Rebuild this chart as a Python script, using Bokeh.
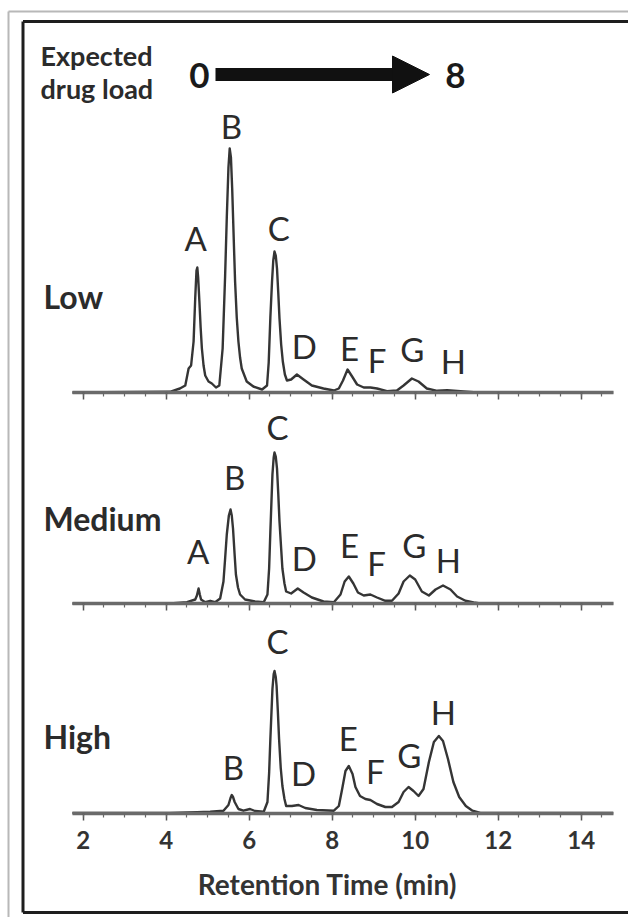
import numpy as np
from bokeh.plotting import figure
from bokeh.models import (LinearAxis, SingleIntervalTicker, Range1d, Arrow,
                          NormalHead, ColumnDataSource)
from bokeh.core.properties import value
from bokeh.embed import file_html
from bokeh.resources import INLINE

# ---------------- data ----------------
panels = ["Low", "Medium", "High"]

low_t = [1.74, 4.09, 4.33, 4.46, 4.54, 4.60, 4.66, 4.70, 4.73, 4.75, 4.77, 4.80, 4.83,
         4.86, 4.90, 4.94, 5.02, 5.10, 5.20, 5.28, 5.36, 5.42, 5.46, 5.50, 5.53, 5.56,
         5.59, 5.63, 5.66, 5.70, 5.74, 5.78, 5.82, 5.94, 6.10, 6.31, 6.43, 6.47, 6.51,
         6.55, 6.58, 6.61, 6.64, 6.67, 6.70, 6.73, 6.77, 6.81, 6.86, 6.91, 7.01, 7.15,
         7.31, 7.51, 7.79, 8.04, 8.16, 8.26, 8.37, 8.48, 8.60, 8.76, 8.92, 9.08, 9.32,
         9.56, 9.72, 9.92, 10.08, 10.28, 10.53, 10.77, 11.09, 11.49, 14.77]
low_h = [0, 0.7, 4, 7, 24, 27, 51, 95, 122, 125, 115, 91, 65,
         44, 27, 17, 11, 9, 5, 7, 44, 117, 175, 225, 244, 235,
         204, 150, 111, 75, 51, 35, 24, 11, 6, 3, 7, 30, 75,
         111, 132, 141, 137, 124, 100, 74, 48, 31, 18, 12, 13, 18,
         13, 7, 4, 2, 4, 12, 23, 16, 8, 5, 5, 4, 1.3,
         2, 7, 14, 11, 4, 1.7, 2.3, 1.3, 0, 0]

med_t = [1.74, 4.09, 4.50, 4.70, 4.74, 4.78, 4.81, 4.84, 4.94, 5.06, 5.18, 5.30, 5.38,
         5.42, 5.46, 5.51, 5.55, 5.58, 5.61, 5.65, 5.68, 5.73, 5.78, 5.90, 6.02, 6.14,
         6.35, 6.44, 6.48, 6.51, 6.56, 6.59, 6.61, 6.64, 6.67, 6.70, 6.73, 6.77, 6.80,
         6.85, 6.89, 7.01, 7.17, 7.31, 7.51, 7.79, 8.04, 8.20, 8.30, 8.40, 8.51, 8.62,
         8.76, 8.92, 9.08, 9.28, 9.44, 9.60, 9.72, 9.87, 10.00, 10.16, 10.33, 10.49,
         10.67, 10.85, 11.01, 11.21, 11.41, 11.57, 14.77]
med_h = [0, 0, 1.3, 4, 8, 15, 9, 4, 1.3, 2.7, 1.3, 5, 22,
         45, 69, 88, 94, 88, 75, 48, 29, 16, 9, 4, 3, 2,
         1.3, 9, 35, 72, 129, 146, 151, 147, 135, 110, 82, 55, 35,
         20, 12, 10, 15, 11, 6, 2, 1.3, 9, 22, 27, 20, 11,
         8, 9, 6, 2.7, 2.7, 10, 22, 28, 24, 12, 8, 14,
         18, 14, 7, 2.7, 1, 0, 0]

high_t = [1.74, 4.09, 4.74, 5.06, 5.38, 5.50, 5.55, 5.58, 5.61, 5.65, 5.74, 5.86, 6.02,
          6.14, 6.35, 6.44, 6.48, 6.51, 6.56, 6.59, 6.61, 6.64, 6.66, 6.69, 6.72, 6.76,
          6.80, 6.85, 6.89, 7.03, 7.19, 7.35, 7.63, 8.04, 8.16, 8.24, 8.32, 8.40, 8.49,
          8.56, 8.67, 8.80, 8.92, 9.08, 9.28, 9.44, 9.60, 9.72, 9.84, 9.96, 10.08, 10.20,
          10.33, 10.45, 10.57, 10.67, 10.79, 10.92, 11.06, 11.22, 11.38, 11.57, 14.77]
high_h = [0, 0, 0.7, 1.3, 2.3, 8, 15, 18, 16, 11, 4, 2.3, 4,
          2, 1.3, 11, 40, 74, 124, 139, 142, 136, 127, 102, 74, 45,
          27, 14, 7, 7, 8, 5, 3, 2.3, 7, 24, 42, 47, 39,
          26, 17, 14, 13, 9, 6, 6, 11, 21, 26, 22, 17, 24,
          51, 71, 77, 72, 54, 31, 16, 7, 2.3, 0, 0]

# peak labels: letter, retention time, height of label baseline above trace baseline
low_lab = ["A", "B", "C", "D", "E", "F", "G", "H"]
low_lab_t = [4.71, 5.57, 6.71, 7.33, 8.42, 9.08, 9.93, 10.92]
low_lab_h = [143, 255, 153, 35, 33, 21, 32, 20]

med_lab = ["A", "B", "C", "D", "E", "F", "G", "H"]
med_lab_t = [4.77, 5.65, 6.68, 7.33, 8.42, 9.07, 9.98, 10.80]
med_lab_h = [41, 115, 165, 34, 47, 29, 47, 32]

high_lab = ["B", "C", "D", "E", "F", "G", "H"]
high_lab_t = [5.62, 6.68, 7.31, 8.39, 9.04, 9.86, 10.68]
high_lab_h = [34, 160, 28, 63, 30, 46, 89]

x_ticks_interval = 2
x_axis_title = "Retention Time (min)"
load_start, load_end = "0", "8"

# ---------------- layout ----------------
W, H = 628, 917
PX2, PXU = 82.7, 41.5          # pixel of t=2 and pixels per minute


def X(px):
    return 2 + (px - PX2) / PXU


def Y(py):
    return H - py


AX_LO, AX_HI = X(71.7), X(612.7)
bases = {"Low": Y(392), "Medium": Y(603), "High": Y(812.5)}
FONT = value("Lato")
INK = "#2b2b2b"
TXT_DY = -12   # screen offset for text glyphs

p = figure(width=W, height=H, x_range=Range1d(X(0), X(W)), y_range=Range1d(0, H),
           output_backend="svg", toolbar_location=None,
           x_axis_location=None, y_axis_location=None, min_border=0,
           outline_line_color=None, background_fill_color="white",
           border_fill_color="white")
p.grid.grid_line_color = None

# frame lines
p.segment(x0=[X(8), X(8)], y0=[Y(11), Y(11)], x1=[X(8), X(W + 5)], y1=[Y(H + 5), Y(11)],
          line_color="#b8b8b8", line_width=2)
p.segment(x0=[X(22.5), X(22.5), X(22.5)], y0=[Y(21), Y(21), Y(912)],
          x1=[X(22.5), X(W + 5), X(W + 5)], y1=[Y(912), Y(21), Y(912)],
          line_color="#1e1e1e", line_width=3)

series = {"Low": (low_t, low_h, low_lab, low_lab_t, low_lab_h),
          "Medium": (med_t, med_h, med_lab, med_lab_t, med_lab_h),
          "High": (high_t, high_h, high_lab, high_lab_t, high_lab_h)}

for name in panels:
    t, h, lab, lt, lh = series[name]
    b = bases[name]
    ax = LinearAxis(fixed_location=b, bounds=(AX_LO, AX_HI),
                    ticker=SingleIntervalTicker(interval=x_ticks_interval, num_minor_ticks=4),
                    axis_line_color="#6a6a6a", axis_line_width=3.5,
                    major_tick_line_color="#555555", major_tick_line_width=1.5,
                    major_tick_in=0, major_tick_out=7,
                    minor_tick_line_color="#666666", minor_tick_line_width=1.2,
                    minor_tick_in=0, minor_tick_out=4,
                    major_label_text_font="Lato", major_label_text_font_style="bold",
                    major_label_text_font_size="24px", major_label_text_color="#333333",
                    major_label_standoff=11)
    if name != "High":
        ax.major_label_text_color = None
    p.add_layout(ax, "below")

    src = ColumnDataSource(dict(t=t, y=[b + v for v in h]))
    p.line("t", "y", source=src, line_color="#353535", line_width=2.4, line_join="round")

    lsrc = ColumnDataSource(dict(t=lt, y=[b + v for v in lh], txt=lab))
    p.text("t", "y", text="txt", source=lsrc, text_font=FONT, text_font_size="33px",
           text_align="center", text_baseline="alphabetic", text_color=INK,
           y_offset=TXT_DY)

# axis title
p.text(x=[X(327)], y=[Y(895)], text=[x_axis_title], text_font=FONT,
       text_font_style="bold", text_font_size="28px", text_align="center",
       text_baseline="alphabetic", text_color="#333333", y_offset=TXT_DY)

# panel names
p.text(x=[X(43), X(43), X(43)], y=[Y(308), Y(530), Y(748)], text=panels,
       text_font=FONT, text_font_style="bold", text_font_size="32px",
       text_align="left", text_baseline="alphabetic", text_color=INK, y_offset=TXT_DY)

# header
p.text(x=[X(40), X(40)], y=[Y(67), Y(100)], text=["Expected", "drug load"],
       text_font=FONT, text_font_style="bold", text_font_size="27px",
       text_align="left", text_baseline="alphabetic", text_color=INK, y_offset=TXT_DY)
p.text(x=[X(199), X(455)], y=[Y(87), Y(87)], text=[load_start, load_end],
       text_font=FONT, text_font_style="bold", text_font_size="35px",
       text_align="center", text_baseline="alphabetic", text_color="#1a1a1a",
       y_offset=TXT_DY)
p.add_layout(Arrow(x_start=X(215), y_start=Y(74), x_end=X(429), y_end=Y(74),
                   line_color="#111111", line_width=13,
                   end=NormalHead(size=37, fill_color="#111111", line_color="#111111",
                                  line_width=1)))

open("out.html", "w").write(file_html(p, INLINE))
